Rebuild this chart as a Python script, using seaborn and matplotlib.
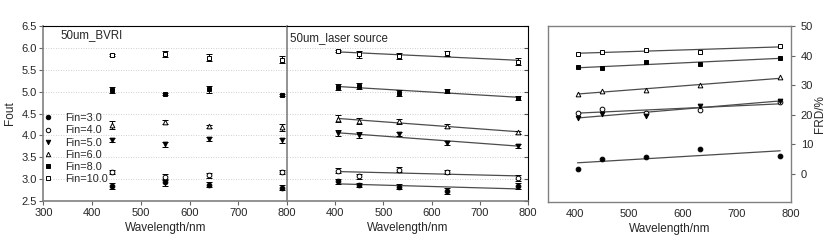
import numpy as np
import matplotlib
matplotlib.use("Agg")
import matplotlib.pyplot as plt
import seaborn as sns
from matplotlib.lines import Line2D

# === DATA ===
fin_labels = ["Fin=3.0", "Fin=4.0", "Fin=5.0", "Fin=6.0", "Fin=8.0", "Fin=10.0"]

# 50um_BVRI (filter wavelengths)
wl_bvri = [440, 550, 640, 790]
fout_bvri = [
    [2.84, 2.93, 2.87, 2.80],   # Fin=3
    [3.16, 3.05, 3.09, 3.16],   # Fin=4
    [3.89, 3.80, 3.92, 3.89],   # Fin=5
    [4.24, 4.31, 4.21, 4.19],   # Fin=6
    [5.04, 4.95, 5.05, 4.92],   # Fin=8
    [5.84, 5.87, 5.78, 5.73],   # Fin=10
]
err_bvri = [
    [0.07, 0.08, 0.06, 0.06],
    [0.04, 0.07, 0.06, 0.05],
    [0.04, 0.06, 0.05, 0.06],
    [0.09, 0.04, 0.03, 0.08],
    [0.07, 0.03, 0.07, 0.03],
    [0.03, 0.07, 0.07, 0.08],
]

# 50um_laser source
wl_laser = [405, 450, 532, 632, 780]
fout_laser = [
    [2.95, 2.87, 2.83, 2.73, 2.84],
    [3.19, 3.06, 3.22, 3.16, 3.03],
    [4.05, 4.00, 4.03, 3.83, 3.76],
    [4.38, 4.33, 4.32, 4.21, 4.07],
    [5.11, 5.13, 4.96, 5.02, 4.86],
    [5.93, 5.85, 5.81, 5.88, 5.68],
]
err_laser = [
    [0.06, 0.04, 0.05, 0.06, 0.07],
    [0.06, 0.06, 0.05, 0.04, 0.07],
    [0.07, 0.07, 0.04, 0.05, 0.05],
    [0.08, 0.06, 0.06, 0.05, 0.03],
    [0.07, 0.06, 0.07, 0.04, 0.05],
    [0.03, 0.09, 0.07, 0.06, 0.08],
]

# FRD (%) vs wavelength
frd_laser = [
    [1.7, 5.1, 5.8, 8.3, 6.2],
    [20.7, 21.8, 20.7, 21.6, 24.4],
    [18.9, 20.3, 19.6, 22.9, 24.7],
    [27.0, 28.1, 28.4, 29.9, 32.6],
    [36.0, 35.7, 37.9, 37.2, 39.2],
    [40.7, 41.3, 41.8, 41.3, 43.3],
]

# === STYLE ===
markers = ["o", "o", "v", "^", "s", "s"]
filled = [True, False, True, False, True, False]

sns.set_theme(style="white")
plt.rcParams["font.family"] = ["Liberation Sans", "DejaVu Sans"]
plt.rcParams.update({"xtick.labelsize": 8, "ytick.labelsize": 8, "axes.labelsize": 8.5})

fig = plt.figure(figsize=(8.3, 2.41), dpi=100)
ax1 = fig.add_axes([0.0524, 0.166, 0.2934, 0.726])
ax2 = fig.add_axes([0.3458, 0.166, 0.2903, 0.726])
ax3 = fig.add_axes([0.660, 0.162, 0.293, 0.730])


def draw_points(ax, x, y, err, i, ms=3.4):
    mfc = "black" if filled[i] else "white"
    ax.errorbar(x, y, yerr=err, fmt=markers[i], color="black", mfc=mfc, mec="black",
                ms=ms, mew=0.7, elinewidth=0.7, capsize=2.2, capthick=0.7, zorder=3)


def draw_fit(ax, x, y):
    sns.regplot(x=np.array(x), y=np.array(y), ax=ax, scatter=False, ci=None,
                truncate=True, color="0.3", line_kws=dict(lw=0.9))


for i in range(6):
    draw_points(ax1, wl_bvri, fout_bvri[i], err_bvri[i], i)
    draw_fit(ax2, wl_laser, fout_laser[i])
    draw_points(ax2, wl_laser, fout_laser[i], err_laser[i], i)
    draw_fit(ax3, wl_laser, frd_laser[i])
    mfc = "black" if filled[i] else "white"
    ax3.plot(wl_laser, frd_laser[i], linestyle="none", marker=markers[i], color="black",
             mfc=mfc, mec="black", ms=3.4, mew=0.7, zorder=3)

# --- panel 1 / 2 shared formatting ---
for ax in (ax1, ax2):
    ax.set_xlim(300, 800)
    ax.set_ylim(2.5, 6.5)
    ax.set_yticks(np.arange(2.5, 6.51, 0.5))
    for yv in np.arange(3.0, 6.01, 0.5):
        ax.axhline(yv, color="0.75", lw=0.6, ls=(0, (1, 2)), zorder=0)
    ax.set_xlabel("Wavelength/nm", labelpad=3)
    ax.spines["top"].set_color("black")
    ax.spines["top"].set_linewidth(0.8)
    ax.spines["bottom"].set_color("0.5")
    ax.spines["bottom"].set_linewidth(1.2)

ax1.set_xticks(range(300, 801, 100))
ax1.set_yticklabels([f"{v:.1f}" for v in np.arange(2.5, 6.51, 0.5)])
ax1.set_ylabel("Fout", labelpad=4)
ax1.spines["left"].set_color("0.5")
ax1.spines["left"].set_linewidth(1.2)
ax1.spines["right"].set_visible(False)
ax1.tick_params(axis="both", direction="out", length=3, width=0.8, color="0.4", pad=2,
                left=True, bottom=True)
ax1.text(0.07, 0.98, "50um_BVRI", transform=ax1.transAxes, fontsize=8.3, va="top")

ax2.set_xticks(range(400, 801, 100))
ax2.set_yticklabels([])
ax2.set_ylabel("")
ax2.spines["left"].set_color("0.5")
ax2.spines["left"].set_linewidth(1.2)
ax2.spines["right"].set_color("black")
ax2.spines["right"].set_linewidth(0.8)
ax2.tick_params(axis="x", direction="out", length=3, width=0.8, color="0.4", pad=2, bottom=True)
ax2.tick_params(axis="y", direction="in", length=3, width=0.8, color="0.3",
                left=False, right=True, labelleft=False)
ax2.text(0.012, 0.965, "50um_laser source", transform=ax2.transAxes, fontsize=8.3, va="top")

# legend in panel 1
handles = [Line2D([], [], linestyle="none", marker=markers[i], color="black",
                  mfc="black" if filled[i] else "white", mec="black", ms=3.2, mew=0.7)
           for i in range(6)]
ax1.legend(handles, fin_labels, loc="upper left", bbox_to_anchor=(-0.035, 0.545),
           frameon=False, fontsize=7.8, handletextpad=1.1, labelspacing=0.2,
           handlelength=1.0, borderpad=0.2)

# --- panel 3 ---
ax3.set_xlim(350, 800)
ax3.set_ylim(-9.5, 50)
ax3.set_xticks(range(400, 801, 100))
ax3.set_yticks(range(0, 51, 10))
ax3.yaxis.tick_right()
ax3.yaxis.set_label_position("right")
ax3.set_ylabel("FRD/%", labelpad=1)
ax3.set_xlabel("Wavelength/nm", labelpad=3)
for s in ax3.spines.values():
    s.set_color("0.5")
    s.set_linewidth(1.0)
ax3.tick_params(axis="both", direction="out", length=3, width=0.8, color="0.4", pad=4)
ax3.tick_params(axis="x", pad=2)

fig.savefig("out.png", dpi=100)
